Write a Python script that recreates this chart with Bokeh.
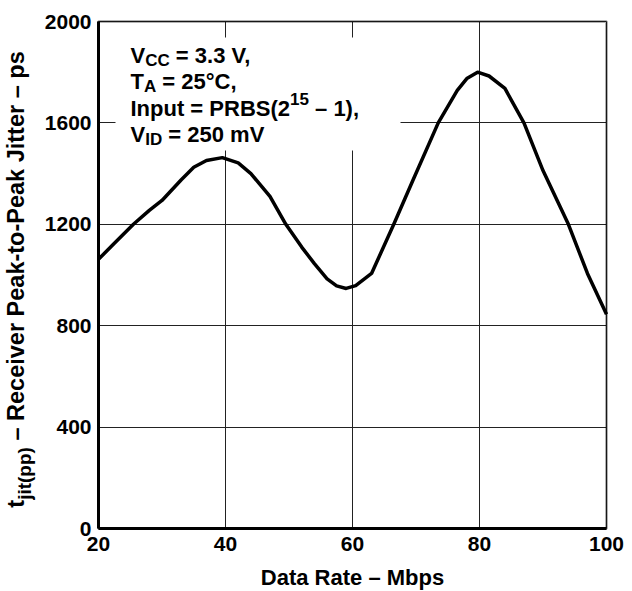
import math
from bokeh.plotting import figure
from bokeh.models import Label, BoxAnnotation, Range1d, FixedTicker
from bokeh.embed import file_html
from bokeh.resources import INLINE

# ---------------- data ----------------
data_rate = [20, 22.5, 25.5, 28, 30, 33, 35, 37, 39.5, 42, 44, 47, 49.5, 52, 54,
             56, 57.5, 59, 60.5, 63, 66.5, 69.5, 73.5, 76.5, 78, 79.7, 81.5, 84,
             87, 90, 94, 97, 100]
jitter_ps = [1062, 1125, 1200, 1255, 1294, 1375, 1425, 1452, 1463, 1442, 1400, 1310,
             1200, 1110, 1045, 985, 957, 947, 958, 1006, 1200, 1373, 1600, 1728,
             1775, 1800, 1785, 1736, 1600, 1412, 1200, 1006, 845]
x_ticks = [20, 40, 60, 80, 100]
y_ticks = [0, 400, 800, 1200, 1600, 2000]

X0, X1 = 20, 100
Y0, Y1 = 0, 2000
FONT = "Liberation Sans"
NB = "\u00a0"

# canvas and plot-area geometry (px)
W, H = 630, 590
FL, FT, FW, FH = 98, 21, 508, 507
KX = (X1 - X0) / FW
KY = (Y1 - Y0) / FH
BASE_FIX = 7  # renderer places the alphabetic baseline ~7px lower


def dx(px):
    return X0 + (px - FL) * KX


def dy(py):
    return Y0 + (FT + FH - py) * KY


# Arial/Liberation Sans Bold advance widths (1/1000 em)
AW = {' ': 278, NB: 278, '(': 333, ')': 333, ',': 278, '-': 333, '.': 278, '=': 584,
      '°': 400, '–': 556,
      'A': 722, 'B': 722, 'C': 722, 'D': 722, 'I': 278, 'J': 556, 'M': 833,
      'P': 667, 'R': 722, 'S': 667, 'T': 611, 'V': 667,
      'a': 556, 'b': 611, 'c': 556, 'e': 556, 'i': 278, 'j': 278, 'k': 556,
      'm': 889, 'n': 611, 'o': 611, 'p': 611, 'r': 389, 's': 556, 't': 333,
      'u': 611, 'v': 556}
for d in "0123456789":
    AW[d] = 556


def tw(s, size):
    return sum(AW.get(c, 556) for c in s) / 1000.0 * size


# the frame covers the whole canvas; the plot box is drawn inside it
p = figure(width=W, height=H,
           x_range=Range1d(dx(0), dx(W)), y_range=Range1d(dy(H), dy(0)),
           output_backend="svg", toolbar_location=None,
           min_border=0, min_border_left=0, min_border_right=0,
           min_border_top=0, min_border_bottom=0,
           background_fill_color="white", border_fill_color="white")
p.outline_line_color = None

p.xaxis.ticker = FixedTicker(ticks=x_ticks)
p.yaxis.ticker = FixedTicker(ticks=y_ticks)
p.xaxis.fixed_location = Y0
p.yaxis.fixed_location = X0
p.xaxis.bounds = (X0, X1)
p.yaxis.bounds = (Y0, Y1)
for ax in (p.xaxis, p.yaxis):
    ax.axis_line_width = 3
    ax.axis_line_color = "black"
    ax.major_tick_out = 0
    ax.major_tick_in = 0
    ax.minor_tick_out = 0
    ax.minor_tick_in = 0
    ax.major_label_text_font = FONT
    ax.major_label_text_font_style = "bold"
    ax.major_label_text_font_size = "21px"
    ax.major_label_text_color = "black"
p.yaxis.major_label_standoff = 7
p.xaxis.major_label_standoff = 8

GRID_COLOR = "#222222"
xg, yg = p.xgrid[0], p.ygrid[0]
if "cross_bounds" in xg.properties():
    xg.bounds = (X0, X1)
    xg.cross_bounds = (Y0, Y1)
    yg.bounds = (Y0, Y1)
    yg.cross_bounds = (X0, X1)
    p.grid.grid_line_color = GRID_COLOR
    p.grid.grid_line_width = 1
    p.grid.grid_line_alpha = 1
else:
    p.grid.visible = False
    p.segment(x0=x_ticks, x1=x_ticks, y0=[Y0] * len(x_ticks), y1=[Y1] * len(x_ticks),
              line_color=GRID_COLOR, line_width=1, level="underlay")
    p.segment(x0=[X0] * len(y_ticks), x1=[X1] * len(y_ticks), y0=y_ticks, y1=y_ticks,
              line_color=GRID_COLOR, line_width=1, level="underlay")

p.line(data_rate, jitter_ps, line_color="black", line_width=3.5, line_join="round")

# white box behind the conditions text
p.add_layout(BoxAnnotation(left=dx(115), right=dx(400), top=dy(37), bottom=dy(150),
                           fill_color="white", fill_alpha=1, line_alpha=0))
# plot box border
p.add_layout(BoxAnnotation(left=X0, right=X1, bottom=Y0, top=Y1,
                           fill_alpha=0, line_color="black", line_width=3))


def put(text, px, py, size, angle=0.0, align="left"):
    p.add_layout(Label(x=dx(px), y=dy(py), text=text, text_font=FONT,
                       text_font_style="bold", text_font_size=f"{size}px",
                       text_color="black", text_align=align,
                       text_baseline="alphabetic", angle=angle))


# conditions text (pieces with sub/superscripts)
MAIN, SUB = 22, 17
lines = [
    [("V", 0), ("CC", -1), (NB + "= 3.3 V,", 0)],
    [("T", 0), ("A", -1), (NB + "= 25°C,", 0)],
    [("Input = PRBS(2", 0), ("15", 1), (NB + "– 1),", 0)],
    [("V", 0), ("ID", -1), (NB + "= 250 mV", 0)],
]
baselines = [61.5, 88, 114.5, 141]
for pieces, base in zip(lines, baselines):
    cx = 130
    for txt, kind in pieces:
        size = MAIN if kind == 0 else SUB
        shift = 0 if kind == 0 else (5 if kind < 0 else -9)
        put(txt, cx, base + shift - BASE_FIX, size)
        cx += tw(txt, size)

# y-axis title, rotated
YM, YS = 23.5, 19
ypieces = [("t", 0), ("jit(pp)", -1), (NB + "– Receiver Peak-to-Peak Jitter – ps", 0)]
total = sum(tw(t, YM if k == 0 else YS) for t, k in ypieces)
cy = 279 + total / 2
base_x = 23 - BASE_FIX - 1
for txt, kind in ypieces:
    size = YM if kind == 0 else YS
    bx = base_x + (0 if kind == 0 else 9)
    put(txt, bx, cy, size, angle=math.pi / 2)
    cy -= tw(txt, size)

# x-axis title
put("Data Rate – Mbps", FL + FW / 2, 584 - BASE_FIX, 22, align="center")

open("out.html", "w").write(file_html(p, INLINE))
